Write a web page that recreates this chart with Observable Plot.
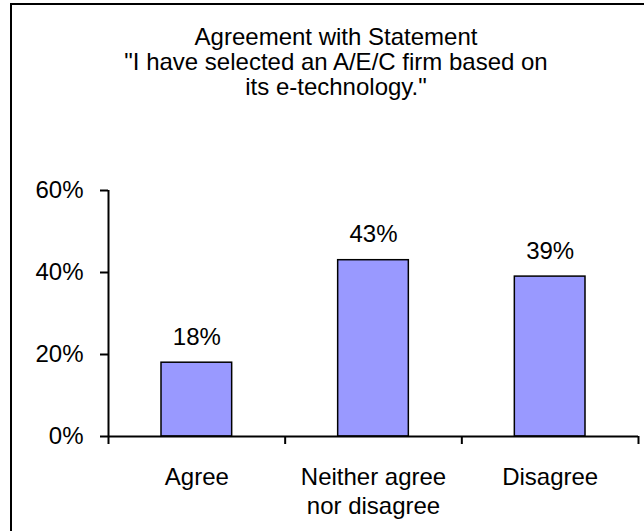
<!DOCTYPE html>
<html><head><meta charset="utf-8">
<script src="https://cdn.jsdelivr.net/npm/d3@7"></script>
<script src="https://cdn.jsdelivr.net/npm/@observablehq/plot@0.6"></script>
<style>
html,body{margin:0;padding:0;background:#fff;}
#wrap{position:relative;width:644px;height:531px;overflow:hidden;font-family:"Liberation Sans",Arial,sans-serif;}
#frame{position:absolute;left:10px;top:3px;width:800px;height:800px;border:2px solid #000;box-sizing:border-box;}
#title{position:absolute;left:0;width:672px;top:24px;text-align:center;font-size:24px;line-height:25px;color:#000;}
#chart{position:absolute;left:0;top:0;}
</style></head>
<body>
<div id="wrap">
  <div id="frame"></div>
  <div id="chart"></div>
  <div id="title"></div>
</div>
<script>
const titleLines = ["Agreement with Statement", "\"I have selected an A/E/C firm based on", "its e-technology.\""];
const categories = ["Agree", "Neither agree\nnor disagree", "Disagree"];
const values = [0.18, 0.43, 0.39];
const yTicks = [0, 0.2, 0.4, 0.6];

const fmt = d3.format(".0%");
const data = categories.map((c, i) => ({i, category: c, value: values[i]}));

const t = document.getElementById("title");
titleLines.forEach(l => { const d = document.createElement("div"); d.textContent = l; t.appendChild(d); });

const chart = Plot.plot({
  width: 644, height: 531,
  marginLeft: 108, marginRight: 6, marginTop: 190, marginBottom: 95,
  x: {domain: [0, categories.length], axis: null},
  y: {domain: [0, 0.6], axis: null},
  style: {fontFamily: '"Liberation Sans", Arial, sans-serif', fontSize: "24px", background: "transparent", color: "#000"},
  marks: [
    Plot.rectY(data, {x1: d => d.i + 0.3, x2: d => d.i + 0.7, y: "value", fill: "#9999FF", stroke: "#000", strokeWidth: 1.5}),
    Plot.ruleX([0], {y1: 0, y2: 0.6, strokeWidth: 2}),
    Plot.ruleY([0], {x1: 0, x2: categories.length, strokeWidth: 2}),
    Plot.axisY({ticks: yTicks, tickFormat: fmt, tickSize: 8, tickPadding: 17, strokeWidth: 2, fontSize: 24, label: null}),
    Plot.axisX({ticks: d3.range(categories.length + 1), tickFormat: () => "", tickSize: 8, strokeWidth: 2, label: null}),
    Plot.text(data, {x: d => d.i + 0.5, y: "value", text: d => fmt(d.value), lineAnchor: "bottom", dy: -18, fontSize: 24}),
    Plot.text(data, {x: d => d.i + 0.5, y: () => 0, text: "category", lineAnchor: "top", dy: 28, lineHeight: 1.2, fontSize: 24})
  ]
});
document.getElementById("chart").appendChild(chart);
</script>
</body></html>
